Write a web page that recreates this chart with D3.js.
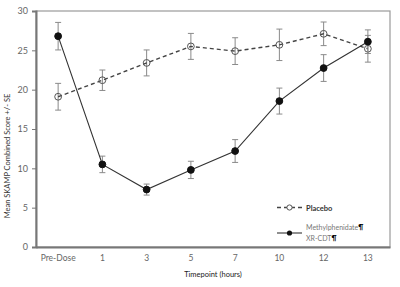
<!DOCTYPE html>
<html>
<head>
<meta charset="utf-8">
<script src="https://cdn.jsdelivr.net/npm/d3@7"></script>
<style>
  body { margin: 0; background: #fff; }
  text { font-family: Lato, "Open Sans", sans-serif; }
</style>
</head>
<body>
<div id="container"></div>
<script>
const WIDTH = 400;
const HEIGHT = 287;
const MARGIN = { TOP: 11, BOTTOM: 40, LEFT: 36, RIGHT: 10 };

const timepoints = ['Pre-Dose', '1', '3', '5', '7', '10', '12', '13'];
const placeboMean = [19.1, 21.2, 23.4, 25.5, 24.9, 25.7, 27.1, 25.2];
const placeboSE = [1.7, 1.3, 1.65, 1.65, 1.7, 2.0, 1.5, 1.7];
const mphMean = [26.8, 10.5, 7.3, 9.8, 12.2, 18.55, 22.75, 26.1];
const mphSE = [1.75, 1.05, 0.7, 1.1, 1.45, 1.65, 1.7, 1.5];
const yTicks = [0, 5, 10, 15, 20, 25, 30];

const width = WIDTH - MARGIN.LEFT - MARGIN.RIGHT;
const height = HEIGHT - MARGIN.TOP - MARGIN.BOTTOM;

const svg = d3.select('#container')
              .append('svg')
                .attr('width', WIDTH)
                .attr('height', HEIGHT);

const g = svg.append('g')
             .attr('transform', `translate(${MARGIN.LEFT}, ${MARGIN.TOP})`);

const xscale = d3.scaleBand().domain(timepoints).range([0, width]);
const yscale = d3.scaleLinear().domain([0, 30]).range([height, 0]);
const xc = d => xscale(d) + xscale.bandwidth() / 2;

// frame (top / right lighter)
g.append('rect')
  .attr('width', width)
  .attr('height', height)
  .attr('fill', 'none')
  .attr('stroke', '#9a9a9a')
  .attr('stroke-width', 1.2);

const yAxis = g.append('g')
  .call(d3.axisLeft(yscale).tickValues(yTicks).tickSize(4).tickPadding(4));
yAxis.select('.domain').attr('stroke', '#777').attr('stroke-width', 2);
yAxis.selectAll('.tick line').attr('stroke', '#777');
yAxis.selectAll('.tick text').attr('fill', '#666').style('font-size', '9px');

const xAxis = g.append('g')
  .attr('transform', `translate(0, ${height})`)
  .call(d3.axisBottom(xscale).tickSize(0).tickPadding(8));
xAxis.select('.domain').attr('stroke', '#777').attr('stroke-width', 2);
xAxis.selectAll('.tick text').attr('fill', '#666').style('font-size', '8.5px');

// axis titles
svg.append('text')
   .attr('transform', `translate(10, 156) rotate(-90)`)
   .attr('text-anchor', 'middle')
   .style('font-size', '7.5px')
   .attr('fill', '#333')
   .text('Mean SKAMP Combined Score +/- SE');

svg.append('text')
   .attr('x', 213)
   .attr('y', 277)
   .attr('text-anchor', 'middle')
   .style('font-size', '7.5px')
   .attr('fill', '#222')
   .text('Timepoint (hours)');

const drawSeries = (means, ses, opts) => {
  const data = timepoints.map((t, i) => ({ t, m: means[i], se: ses[i] }));
  const s = g.append('g');

  s.selectAll('.err')
    .data(data)
    .enter().append('path')
      .attr('fill', 'none')
      .attr('stroke', '#8a8a8a')
      .attr('stroke-width', 1)
      .attr('d', d => {
        const x = xc(d.t);
        const y0 = yscale(d.m - d.se), y1 = yscale(d.m + d.se);
        return `M${x - 3},${y0}H${x + 3}M${x},${y0}V${y1}M${x - 3},${y1}H${x + 3}`;
      });

  s.append('path')
    .datum(data)
    .attr('fill', 'none')
    .attr('stroke', opts.stroke)
    .attr('stroke-width', opts.width)
    .attr('stroke-dasharray', opts.dash)
    .attr('d', d3.line().x(d => xc(d.t)).y(d => yscale(d.m)));

  s.selectAll('circle')
    .data(data)
    .enter().append('circle')
      .attr('cx', d => xc(d.t))
      .attr('cy', d => yscale(d.m))
      .attr('r', 3.4)
      .attr('fill', opts.fill)
      .attr('stroke', opts.markerStroke)
      .attr('stroke-width', 1);
};

drawSeries(placeboMean, placeboSE,
  { stroke: '#444', width: 1.4, dash: '4,3', fill: 'none', markerStroke: '#555' });
drawSeries(mphMean, mphSE,
  { stroke: '#333', width: 1.1, dash: null, fill: '#111', markerStroke: '#111' });

// legend
const legend = svg.append('g');
legend.append('line')
  .attr('x1', 277).attr('x2', 302).attr('y1', 207.5).attr('y2', 207.5)
  .attr('stroke', '#444').attr('stroke-width', 1.4).attr('stroke-dasharray', '4,3');
legend.append('circle')
  .attr('cx', 289.5).attr('cy', 207.5).attr('r', 2.6)
  .attr('fill', '#fff').attr('stroke', '#555');
legend.append('text')
  .attr('x', 306).attr('y', 210.5)
  .style('font-size', '7.5px').attr('fill', '#333').attr('font-weight', 'bold')
  .text('Placebo');

legend.append('line')
  .attr('x1', 277).attr('x2', 302).attr('y1', 233).attr('y2', 233)
  .attr('stroke', '#333').attr('stroke-width', 1.1);
legend.append('circle')
  .attr('cx', 289.5).attr('cy', 233).attr('r', 2.6)
  .attr('fill', '#111');

const legendLines = ['Methylphenidate', 'XR-CDT'];
legendLines.forEach((t, i) => {
  const txt = legend.append('text')
    .attr('x', 306).attr('y', 230 + i * 11)
    .style('font-size', '7px').attr('fill', '#777');
  txt.append('tspan').text(t);
  txt.append('tspan').attr('fill', '#000').attr('font-weight', 'bold').text('¶');
});
</script>
</body>
</html>
